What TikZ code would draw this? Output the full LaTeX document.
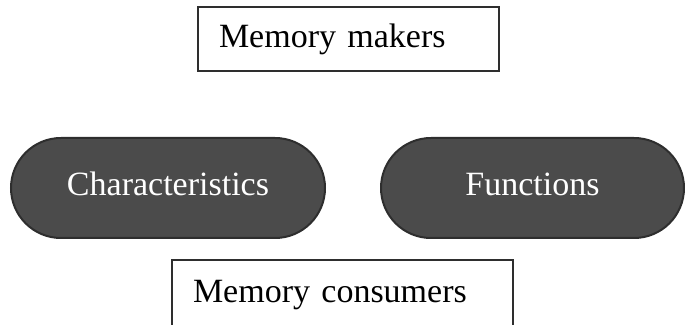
\documentclass[tikz,border=0pt]{standalone}
\usepackage{fontspec}
\setmainfont{Liberation Serif}
\usepackage{xcolor}
\usetikzlibrary{shapes}
\usetikzlibrary{positioning}
\definecolor{pillgray}{HTML}{4B4B4B}
\definecolor{edgegray}{HTML}{2E2E2E}
\tikzset{
  labelbox/.style={draw=edgegray, line width=1.5pt, fill=white, minimum height=64pt,
    inner xsep=21pt, align=left, font=\fontsize{34}{40}\selectfont},
  pill/.style={draw=edgegray, line width=2pt, fill=pillgray, text=white, rounded corners=50pt,
    minimum height=100pt, text depth=8pt, font=\fontsize{34}{40}\selectfont}
}

\begin{document}
\begin{tikzpicture}[x=1pt,y=1pt]
\useasboundingbox (0,0) rectangle (685,324);
\clip (0,0) rectangle (685,324);
\node[labelbox, text width=259pt] (makers) at (348.5,285) {Memory makers};
\node[pill, minimum width=314pt] (charac) at (168,136) {Characteristics};
\node[pill, minimum width=303pt] (funcs) at (532.5,136) {Functions};
% bottom edge runs off the page
\node[labelbox, text width=299pt, minimum height=70pt] (consumers) at (342.5,29) {Memory consumers};
\end{tikzpicture}
\end{document}
